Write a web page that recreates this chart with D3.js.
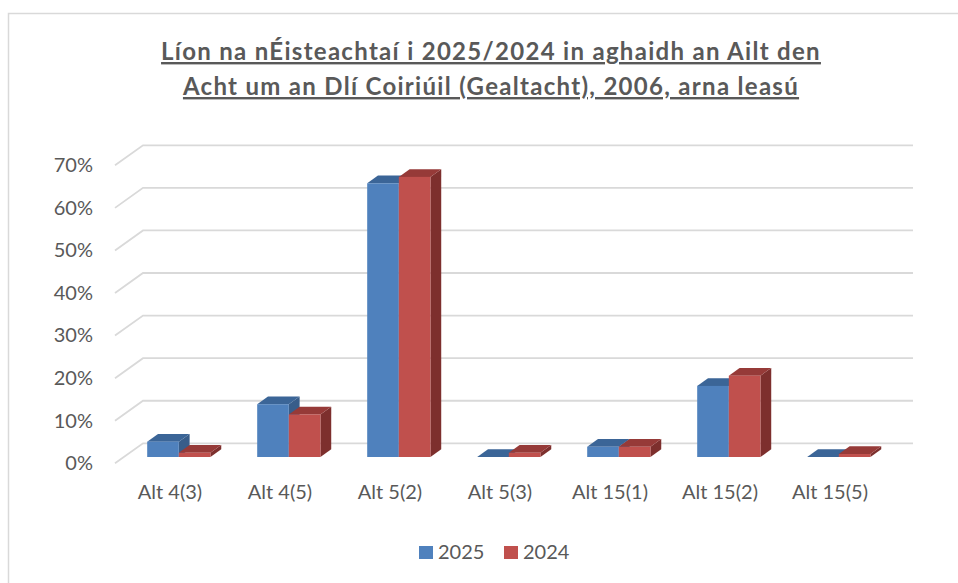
<!DOCTYPE html>
<html>
<head>
<meta charset="utf-8">
<script src="https://cdn.jsdelivr.net/npm/d3@7"></script>
<style>
  body { margin: 0; background: #fff; }
  text { font-family: Lato, "Open Sans", sans-serif; fill: #595959; }
</style>
</head>
<body>
<script>
// data
var categories = ['Alt 4(3)', 'Alt 4(5)', 'Alt 5(2)', 'Alt 5(3)', 'Alt 15(1)', 'Alt 15(2)', 'Alt 15(5)']
var seriesNames = ['2025', '2024']
var values2025 = [0.036, 0.124, 0.643, 0.0, 0.024, 0.167, 0.0]
var values2024 = [0.010, 0.100, 0.658, 0.010, 0.024, 0.191, 0.007]
var yTicks = [0, 0.1, 0.2, 0.3, 0.4, 0.5, 0.6, 0.7]
var titleLines = ['Líon na nÉisteachtaí i 2025/2024 in aghaidh an Ailt den',
                  'Acht um an Dlí Coiriúil (Gealtacht), 2006, arna leasú']

var colors = {
  '2025': {front: '#4f81bd', top: '#3b6597', side: '#385d8a'},
  '2024': {front: '#c0504d', top: '#963a38', side: '#7d2f2d'}
}

var width = 958
var height = 583

// 3d look: the floor goes 28px left and 20px down from the back wall
var depthX = -28, depthY = 20
var barFront = 0.685   // where the bar front sits in the depth
var barDepth = 0.385   // how deep the bar is

var svg = d3.select('body').append('svg')
  .attr('width', width)
  .attr('height', height)

svg.append('rect')
  .attr('x', 8.5).attr('y', 13.5)
  .attr('width', 972).attr('height', 620)
  .attr('fill', 'none').attr('stroke', '#d9d9d9').attr('stroke-width', 1.5)

// title
svg.selectAll('.title')
  .data(titleLines)
  .enter()
  .append('text')
  .attr('class', 'title')
  .attr('x', 491)
  .attr('y', function(d, i) { return 60 + i * 35 })
  .attr('text-anchor', 'middle')
  .style('font-size', '24px')
  .style('letter-spacing', '1.3px')
  .style('font-weight', 'bold')
  .style('text-decoration', 'underline')
  .text(function(d) { return d })

var x0 = d3.scaleBand()
  .domain(categories)
  .range([143, 913])
  .paddingInner(0.425)
  .paddingOuter(0.2125)

var x1 = d3.scaleBand()
  .domain(seriesNames)
  .range([0, x0.bandwidth()])

var y = d3.scaleLinear()
  .domain([0, 0.7])
  .range([443.3, 145.3])

// gridlines: back wall line plus the diagonal on the side
svg.append('g')
  .selectAll('polyline')
  .data(yTicks)
  .enter()
  .append('polyline')
  .attr('points', function(d) {
    return [[143 + depthX, y(d) + depthY], [143, y(d)], [913, y(d)]].join(' ')
  })
  .attr('fill', 'none')
  .attr('stroke', '#d9d9d9')
  .attr('stroke-width', 1.8)

// axes sit on the front edge of the floor
var yFront = y.copy().range([443.3 + depthY, 145.3 + depthY])
var yAxis = svg.append('g')
  .attr('transform', 'translate(93,0)')
  .call(d3.axisLeft(yFront).tickValues(yTicks).tickFormat(d3.format('.0%')).tickSize(0).tickPadding(0))
yAxis.select('.domain').remove()
yAxis.selectAll('text').style('font-size', '20px').attr('fill', '#595959')

var xFront = x0.copy().range([143 + depthX, 913 + depthX])
var xAxis = svg.append('g')
  .attr('transform', 'translate(0,' + (443.3 + depthY) + ')')
  .call(d3.axisBottom(xFront).tickSize(0).tickPadding(22))
xAxis.select('.domain').remove()
xAxis.selectAll('text').style('font-size', '20px').attr('fill', '#595959')

// bars
var barData = []
categories.forEach(function(c, i) {
  barData.push({cat: c, series: '2025', value: values2025[i]})
  barData.push({cat: c, series: '2024', value: values2024[i]})
})

var fx = depthX * barFront, fy = depthY * barFront
var bx = -depthX * barDepth, by = -depthY * barDepth

var bars = svg.append('g')
  .selectAll('g')
  .data(barData)
  .enter()
  .append('g')

function poly(pts) { return 'M' + pts.map(function(p) { return p.join(',') }).join('L') + 'Z' }

bars.each(function(d) {
  var g = d3.select(this)
  var left = x0(d.cat) + x1(d.series) + fx
  var right = left + x1.bandwidth()
  var top = y(d.value) + fy
  var bottom = y(0) + fy
  var c = colors[d.series]
  g.append('path')
    .attr('d', poly([[right, top], [right + bx, top + by], [right + bx, bottom + by], [right, bottom]]))
    .attr('fill', c.side)
  g.append('path')
    .attr('d', poly([[left, top], [left + bx, top + by], [right + bx, top + by], [right, top]]))
    .attr('fill', c.top)
  g.append('rect')
    .attr('x', left).attr('y', top)
    .attr('width', x1.bandwidth()).attr('height', bottom - top)
    .attr('fill', c.front)
})

// legend
var legendX = [419, 504]
var legend = svg.selectAll('.legend')
  .data(seriesNames)
  .enter()
  .append('g')
  .attr('class', 'legend')
  .attr('transform', function(d, i) { return 'translate(' + legendX[i] + ',546)' })
legend.append('rect')
  .attr('width', 14).attr('height', 13)
  .attr('fill', function(d) { return colors[d].front })
legend.append('text')
  .attr('x', 19).attr('y', 13)
  .style('font-size', '20px')
  .text(function(d) { return d })
</script>
</body>
</html>
